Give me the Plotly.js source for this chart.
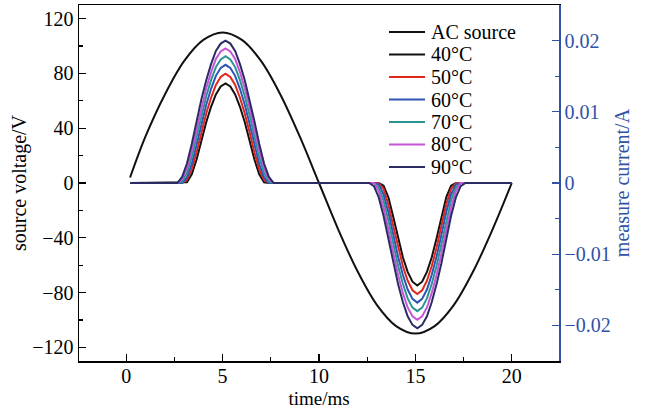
<!DOCTYPE html>
<html>
<head>
<meta charset="utf-8">
<script src="https://cdn.plot.ly/plotly-3.0.1.min.js"></script>
<style>html,body{margin:0;padding:0;background:#fff;}#chart{width:655px;height:410px;}</style>
</head>
<body>
<div id="chart"></div>
<script>
// AC source voltage (V) vs time (ms)
const acTime = [0.2, 1, 2, 3, 4, 5, 6, 7, 8, 9, 10, 11, 12, 13, 14, 15, 16, 17, 18, 19, 20];
const acVolt = [4, 34, 64.5, 89, 104.5, 110, 104.5, 89, 64.5, 34, 0, -34, -64.5, -89, -104.5, -110, -104.5, -89, -64.5, -34, 0];

// measured current (A) vs time (ms)
const time = [0.2,
  2.4, 2.65, 2.9, 3.15, 3.4, 3.65, 3.9, 4.15, 4.4, 4.65, 4.9, 5.15, 5.4, 5.65, 5.9, 6.15, 6.4, 6.65, 6.9, 7.15, 7.4, 7.65, 7.9,
  12.35, 12.6, 12.85, 13.1, 13.35, 13.6, 13.85, 14.1, 14.35, 14.6, 14.85, 15.1, 15.35, 15.6, 15.85, 16.1, 16.35, 16.6, 16.85, 17.1, 17.35, 17.6, 17.85,
  20.0];

const i40 = [0,
  0, 0, 0, 0.0001, 0.00123, 0.0033, 0.00594, 0.00853, 0.0107, 0.01244, 0.01356, 0.0140, 0.01356, 0.01244, 0.0107, 0.00853, 0.00594, 0.0033, 0.00123, 0.0001, 0, 0, 0,
  0, 0, 0, 0, -0.00039, -0.002, -0.00473, -0.00775, -0.01042, -0.01248, -0.01386, -0.0144, -0.01386, -0.01248, -0.01042, -0.00775, -0.00473, -0.002, -0.00039, 0, 0, 0, 0,
  0];
const i50 = [0,
  0, 0, 0, 0.00044, 0.00192, 0.00428, 0.00714, 0.00977, 0.01198, 0.01378, 0.0149, 0.01535, 0.0149, 0.01378, 0.01198, 0.00977, 0.00714, 0.00428, 0.00192, 0.00044, 0, 0, 0,
  0, 0, 0, 0, -0.00083, -0.00302, -0.006, -0.00906, -0.01165, -0.01372, -0.01507, -0.0156, -0.01507, -0.01372, -0.01165, -0.00906, -0.006, -0.00302, -0.00083, 0, 0, 0, 0,
  0];
const i60 = [0,
  0, 0, 0, 0.00079, 0.00268, 0.00537, 0.00832, 0.011, 0.01323, 0.01505, 0.01616, 0.0166, 0.01616, 0.01505, 0.01323, 0.011, 0.00832, 0.00537, 0.00268, 0.00079, 0, 0, 0,
  0, 0, 0, -0.0002, -0.00161, -0.00412, -0.00729, -0.01034, -0.01289, -0.01496, -0.01628, -0.0168, -0.01628, -0.01496, -0.01289, -0.01034, -0.00729, -0.00412, -0.00161, -0.0002, 0, 0, 0,
  0];
const i70 = [0,
  0, 0, 0.0002, 0.00142, 0.00364, 0.00653, 0.00953, 0.01218, 0.01444, 0.01628, 0.01736, 0.0178, 0.01736, 0.01628, 0.01444, 0.01218, 0.00953, 0.00653, 0.00364, 0.00142, 0.0002, 0, 0,
  0, 0, 0, -0.00063, -0.00245, -0.00528, -0.00861, -0.01162, -0.01415, -0.01621, -0.0175, -0.018, -0.0175, -0.01621, -0.01415, -0.01162, -0.00861, -0.00528, -0.00245, -0.00063, 0, 0, 0,
  0];
const i80 = [0,
  0, 0, 0.00052, 0.00208, 0.00455, 0.0076, 0.01063, 0.01331, 0.01556, 0.01741, 0.01847, 0.0189, 0.01847, 0.01741, 0.01556, 0.01331, 0.01063, 0.0076, 0.00455, 0.00208, 0.00052, 0, 0,
  0, 0, 0, -0.00117, -0.00347, -0.00658, -0.00991, -0.01292, -0.01543, -0.01748, -0.01871, -0.0192, -0.01871, -0.01748, -0.01543, -0.01292, -0.00991, -0.00658, -0.00347, -0.00117, 0, 0, 0,
  0];
const i90 = [0,
  0, 0, 0.00085, 0.00274, 0.00549, 0.00868, 0.01176, 0.01442, 0.01669, 0.01855, 0.01958, 0.0200, 0.01958, 0.01855, 0.01669, 0.01442, 0.01176, 0.00868, 0.00549, 0.00274, 0.00085, 0, 0,
  0, 0, -0.00044, -0.00202, -0.00463, -0.00794, -0.01126, -0.0142, -0.01671, -0.01873, -0.01993, -0.0204, -0.01993, -0.01873, -0.01671, -0.0142, -0.01126, -0.00794, -0.00463, -0.00202, -0.00044, 0, 0,
  0];

const seriesNames = ['40°C', '50°C', '60°C', '70°C', '80°C', '90°C'];
const seriesData = [i40, i50, i60, i70, i80, i90];
const seriesColors = ['#111111', '#e3261c', '#2e55b5', '#2a9494', '#c455d6', '#2c2c64'];

const FONT = 'Liberation Serif, Times New Roman, serif';
const BLUE = '#2f52a8';
const FS = 20;

const traces = [{
  x: acTime, y: acVolt, name: 'AC source', type: 'scatter', mode: 'lines',
  line: {color: '#111111', width: 2, shape: 'spline'}, yaxis: 'y'
}];
seriesData.forEach((d, k) => {
  traces.push({
    x: time, y: d, name: seriesNames[k], type: 'scatter', mode: 'lines',
    line: {color: seriesColors[k], width: 2}, yaxis: 'y2'
  });
});

// manual legend (plot area: left 79px, width 480px, top 5px, height 356px)
const M = {l: 79, r: 96, t: 5, b: 49};
const PW = 655 - M.l - M.r, PH = 410 - M.t - M.b;
const px = v => (v - M.l) / PW;
const py = v => 1 - (v - M.t) / PH;
const legNames = ['AC source'].concat(seriesNames);
const legColors = ['#111111'].concat(seriesColors);
const shapes = [], annotations = [];
legNames.forEach((n, k) => {
  const yc = 32 + k * 22.5;
  shapes.push({type: 'line', xref: 'paper', yref: 'paper', x0: px(389), x1: px(425), y0: py(yc), y1: py(yc),
               line: {color: legColors[k], width: 2}});
  annotations.push({xref: 'paper', yref: 'paper', x: px(429), y: py(yc), xanchor: 'left', yanchor: 'middle',
                    text: n, showarrow: false, font: {family: FONT, size: FS, color: '#000'}});
});

const layout = {
  width: 655, height: 410,
  margin: M,
  paper_bgcolor: '#ffffff', plot_bgcolor: '#ffffff',
  font: {family: FONT, size: FS, color: '#000'},
  showlegend: false,
  shapes: shapes, annotations: annotations,
  xaxis: {
    range: [-2.45, 22.45], dtick: 5, tick0: 0, showgrid: false, zeroline: false,
    showline: true, linecolor: '#000', linewidth: 1.5, mirror: true,
    ticks: 'inside', ticklen: 7, tickwidth: 1.2, tickcolor: '#000',
    minor: {dtick: 2.5, ticks: 'inside', ticklen: 4, tickcolor: '#000', showgrid: false},
    ticklabelstandoff: -4,
    title: {text: 'time/ms', font: {family: FONT, size: 19}, standoff: 6},
    tickfont: {family: FONT, size: FS}
  },
  yaxis: {
    range: [-130, 130], dtick: 40, tick0: 0, showgrid: false, zeroline: false,
    showline: true, linecolor: '#000', linewidth: 1.5,
    ticks: 'inside', ticklen: 7, tickwidth: 1.2, tickcolor: '#000',
    minor: {dtick: 20, ticks: 'inside', ticklen: 4, tickcolor: '#000', showgrid: false},
    title: {text: 'source voltage/V', font: {family: FONT, size: FS}, standoff: 0},
    tickfont: {family: FONT, size: FS}
  },
  yaxis2: {
    overlaying: 'y', side: 'right',
    range: [-0.025, 0.025], dtick: 0.01, tick0: 0, showgrid: false, zeroline: false,
    showline: true, linecolor: BLUE, linewidth: 1.5,
    ticks: 'inside', ticklen: 7, tickwidth: 1.2, tickcolor: BLUE,
    minor: {dtick: 0.005, ticks: 'inside', ticklen: 4, tickcolor: BLUE, showgrid: false},
    title: {text: 'measure current/A', font: {family: FONT, size: FS, color: BLUE}, standoff: 4},
    tickfont: {family: FONT, size: FS, color: BLUE}
  }
};

Plotly.newPlot('chart', traces, layout, {staticPlot: true, displayModeBar: false});
</script>
</body>
</html>
